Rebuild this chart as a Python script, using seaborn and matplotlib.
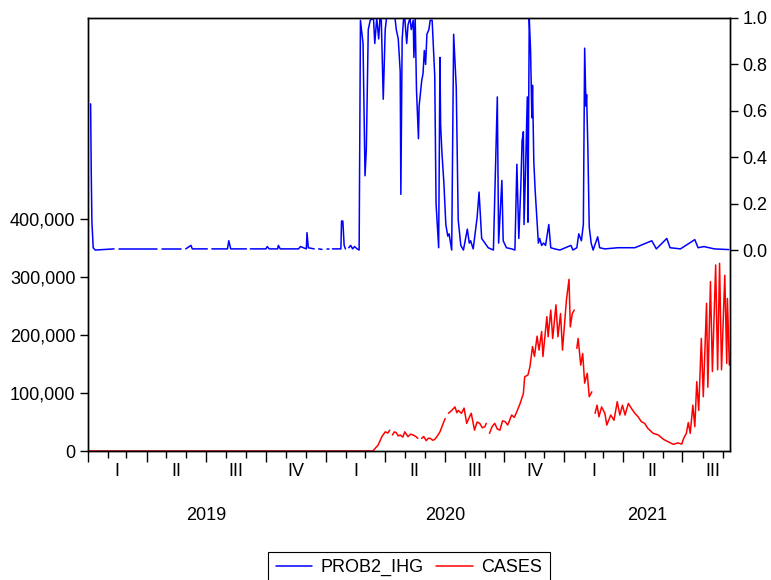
import matplotlib
matplotlib.use("Agg")
import matplotlib.dates as mdates
import matplotlib.pyplot as plt
import matplotlib.transforms as mtransforms
import numpy as np
import pandas as pd
import seaborn as sns
from matplotlib.lines import Line2D
from matplotlib.ticker import FuncFormatter, NullFormatter

nan = np.nan

# PROB2_IHG (right axis); nan marks a gap in the series
prob_dates = [
    "2019-01-05", "2019-01-06", "2019-01-07", "2019-01-09", "2019-01-12", "2019-02-10",
    "2019-02-14", "2019-02-18", "2019-04-17", "2019-04-20", "2019-04-24", "2019-05-24",
    "2019-05-27", "2019-05-31", "2019-06-08", "2019-06-10", "2019-07-03", "2019-07-06",
    "2019-07-10", "2019-08-03", "2019-08-05", "2019-08-08", "2019-09-01", "2019-09-04",
    "2019-09-07", "2019-10-01", "2019-10-03", "2019-10-06", "2019-10-19", "2019-10-20",
    "2019-10-23", "2019-11-20", "2019-11-23", "2019-12-02", "2019-12-03", "2019-12-05",
    "2019-12-14", "2019-12-18", "2019-12-21", "2019-12-26", "2019-12-28", "2020-01-02",
    "2020-01-06", "2020-01-08", "2020-01-11", "2020-01-24", "2020-01-25", "2020-01-27",
    "2020-01-29", "2020-01-31", "2020-02-03", "2020-02-05", "2020-02-08", "2020-02-11",
    "2020-02-14", "2020-02-18", "2020-02-21",
    "2020-02-23", "2020-02-27", "2020-03-01", "2020-03-03", "2020-03-06", "2020-03-09",
    "2020-03-14", "2020-03-16", "2020-03-19", "2020-03-22", "2020-03-24", "2020-03-26",
    "2020-03-29", "2020-04-01", "2020-04-03", "2020-04-08", "2020-04-16", "2020-04-18",
    "2020-04-21", "2020-04-24", "2020-04-25", "2020-04-27", "2020-04-29", "2020-05-01",
    "2020-05-04", "2020-05-06", "2020-05-09", "2020-05-11", "2020-05-14", "2020-05-15",
    "2020-05-17", "2020-05-19", "2020-05-22", "2020-05-23", "2020-05-27", "2020-05-29",
    "2020-05-31", "2020-06-02", "2020-06-04", "2020-06-07", "2020-06-09", "2020-06-12",
    "2020-06-16", "2020-06-18", "2020-06-22", "2020-06-24", "2020-06-25", "2020-06-27",
    "2020-06-30", "2020-07-03", "2020-07-06", "2020-07-08", "2020-07-12", "2020-07-15",
    "2020-07-19", "2020-07-22", "2020-07-26", "2020-07-30", "2020-08-05", "2020-08-08",
    "2020-08-10", "2020-08-14", "2020-08-20", "2020-08-23", "2020-08-27", "2020-09-01",
    "2020-09-06", "2020-09-14", "2020-09-20", "2020-09-22", "2020-09-27", "2020-09-29",
    "2020-10-04", "2020-10-12", "2020-10-17", "2020-10-20", "2020-10-23", "2020-10-26",
    "2020-10-28", "2020-10-30", "2020-10-31", "2020-11-02", "2020-11-05", "2020-11-06",
    "2020-11-08", "2020-11-10", "2020-11-12", "2020-11-13", "2020-11-15", "2020-11-17",
    "2020-11-22", "2020-11-24", "2020-11-27", "2020-11-30", "2020-12-03", "2020-12-08",
    "2020-12-11", "2020-12-17", "2020-12-25", "2021-01-11", "2021-01-14", "2021-01-20",
    "2021-01-23", "2021-01-27", "2021-01-30", "2021-02-01", "2021-02-03", "2021-02-04",
    "2021-02-06", "2021-02-08", "2021-02-11", "2021-02-14", "2021-02-21", "2021-02-24",
    "2021-03-04", "2021-03-24", "2021-04-19", "2021-05-15", "2021-05-22", "2021-06-07",
    "2021-06-12", "2021-06-28", "2021-07-20", "2021-07-25", "2021-08-03", "2021-08-19",
    "2021-09-10",
]
prob_values = [
    0.63, 0.33, 0.12, 0.01, 0.0, 0.005,
    nan, 0.005, 0.005, nan, 0.005, 0.005,
    nan, 0.005, 0.02, 0.005, 0.005, nan,
    0.005, 0.005, 0.04, 0.005, 0.005, nan,
    0.005, 0.005, 0.015, 0.005, 0.005, 0.02,
    0.005, 0.005, 0.015, 0.005, 0.075, 0.01,
    0.005, nan, 0.005, 0.003, nan, 0.005,
    0.005, nan, 0.005, 0.005, 0.125, 0.125,
    0.02, 0.005, nan, 0.01, 0.02, 0.005,
    0.015, 0.005, 0.0,
    0.99, 0.89, 0.32, 0.43, 0.95, 0.99,
    1.0, 0.89, 1.0, 0.91, 1.0, 0.99,
    0.65, 0.95, 1.0, 1.0, 1.0, 0.95,
    0.91, 0.77, 0.24, 0.91, 0.99, 1.0,
    0.89, 0.97, 1.0, 0.95, 0.99, 0.83,
    1.0, 0.69, 0.48, 0.62, 0.73, 0.76,
    0.86, 0.80, 0.93, 0.95, 0.99, 0.99,
    0.75, 0.20, 0.01, 0.83, 0.54, 0.42,
    0.29, 0.11, 0.06, 0.07, 0.0, 0.93,
    0.70, 0.13, 0.02, 0.0, 0.09, 0.03,
    0.04, 0.005, 0.14, 0.25, 0.05, 0.03,
    0.01, 0.0, 0.66, 0.03, 0.30, 0.04,
    0.01, 0.005, 0.0, 0.37, 0.05, 0.27,
    0.47, 0.51, 0.11, 0.31, 0.66, 0.12,
    1.0, 0.86, 0.57, 0.71, 0.38, 0.26,
    0.03, 0.05, 0.02, 0.03, 0.02, 0.11,
    0.01, 0.005, 0.0, 0.02, 0.0, 0.01,
    0.07, 0.04, 0.11, 0.87, 0.62, 0.67,
    0.43, 0.10, 0.03, 0.0, 0.057, 0.01,
    0.005, 0.01, 0.01, 0.04, 0.005, 0.05,
    0.01, 0.005, 0.045, 0.01, 0.015, 0.005,
    0.002,
]

# CASES (left axis)
case_dates = [
    "2019-01-01", "2020-03-13", "2020-03-21", "2020-03-27", "2020-04-01", "2020-04-05",
    "2020-04-08", "2020-04-10", "2020-04-12", "2020-04-15", "2020-04-18", "2020-04-21",
    "2020-04-24", "2020-04-28", "2020-05-01", "2020-05-06", "2020-05-10", "2020-05-14",
    "2020-05-18", "2020-05-21", "2020-05-24", "2020-05-27", "2020-05-30", "2020-06-03",
    "2020-06-06", "2020-06-09", "2020-06-13", "2020-06-16", "2020-06-20", "2020-06-24",
    "2020-06-28", "2020-07-02", "2020-07-04", "2020-07-07", "2020-07-12", "2020-07-17",
    "2020-07-20", "2020-07-22", "2020-07-27", "2020-07-31", "2020-08-04", "2020-08-08",
    "2020-08-11", "2020-08-16", "2020-08-20", "2020-08-24", "2020-08-28", "2020-09-01",
    "2020-09-03", "2020-09-05", "2020-09-08", "2020-09-12", "2020-09-16", "2020-09-20",
    "2020-09-24", "2020-09-28", "2020-10-02", "2020-10-06", "2020-10-12", "2020-10-16",
    "2020-10-20", "2020-10-25", "2020-10-30", "2020-11-01", "2020-11-06", "2020-11-09",
    "2020-11-13", "2020-11-16", "2020-11-20", "2020-11-23", "2020-11-27", "2020-11-29",
    "2020-12-05", "2020-12-07", "2020-12-11", "2020-12-14", "2020-12-19", "2020-12-22",
    "2020-12-26", "2020-12-29", "2021-01-04", "2021-01-08", "2021-01-10", "2021-01-13",
    "2021-01-16", "2021-01-18", "2021-01-20", "2021-01-22", "2021-01-26", "2021-01-29",
    "2021-02-01", "2021-02-05", "2021-02-08", "2021-02-12", "2021-02-14", "2021-02-17",
    "2021-02-20", "2021-02-23", "2021-02-27", "2021-03-04", "2021-03-07", "2021-03-13",
    "2021-03-18", "2021-03-23", "2021-03-27", "2021-03-31", "2021-04-04", "2021-04-09",
    "2021-04-14", "2021-04-19", "2021-04-24", "2021-04-29", "2021-05-04", "2021-05-09",
    "2021-05-17", "2021-05-25", "2021-06-02", "2021-06-09", "2021-06-17", "2021-06-24",
    "2021-06-30", "2021-07-03", "2021-07-07", "2021-07-10", "2021-07-13", "2021-07-17",
    "2021-07-20", "2021-07-23", "2021-07-26", "2021-07-30", "2021-08-02", "2021-08-07",
    "2021-08-09", "2021-08-13", "2021-08-16", "2021-08-21", "2021-08-24", "2021-08-27",
    "2021-08-30", "2021-09-04", "2021-09-07", "2021-09-08", "2021-09-11",
]
case_values = [
    0, 0, 10000, 25000, 33000, 31000,
    36000, nan, 27600, 33000, 31600, 26000,
    27600, 24000, 33000, 24700, 29000, 27600,
    25000, 21800, nan, 21800, 25000, 17800,
    22000, 21800, 18500, 20000, 26000, 33000,
    45000, 56000, nan, 65000, 70000, 76000,
    66000, 70000, 65000, 74000, 47700, 58000,
    65000, 36000, 50000, 47700, 40000, 42000,
    47700, nan, 30500, 42000, 47700, 38000,
    36000, 52000, 50600, 44800, 62000, 58000,
    68000, 82000, 99400, 128000, 131000, 145000,
    180000, 163000, 198000, 174000, 206000, 163000,
    231600, 197000, 243000, 194000, 252000, 197000,
    237000, 174000, 260000, 296000, 214000, 237000,
    243000, nan, 177000, 194000, 148000, 168000,
    117000, 134000, 93600, 102000, nan, 65000,
    79000, 59000, 76000, 65000, 44800, 62000,
    53000, 85000, 62000, 79000, 62000, 82000,
    73000, 65000, 59000, 50600, 47700, 39000,
    30500, 27600, 20000, 16000, 11500, 14000,
    12000, 22000, 30500, 49000, 30500, 79000,
    42000, 119500, 70000, 194000, 93600, 254600,
    110000, 292000, 137000, 320700, 140000, 323600,
    140000, 303000, 151000, 263000, 148000,
]

series_names = ["PROB2_IHG", "CASES"]
quarter_names = ["I", "II", "III", "IV"]
date_start, date_end = "2019-01-01", "2021-09-12"


def to_frame(dates, values):
    # split the series at nan so the gaps stay visible
    df = pd.DataFrame({"date": pd.to_datetime(dates), "value": values})
    df["seg"] = df["value"].isna().cumsum()
    return df.dropna()


prob_df = to_frame(prob_dates, prob_values)
case_df = to_frame(case_dates, case_values)

sns.set_style("ticks")
plt.rcParams["font.family"] = ["Liberation Sans", "DejaVu Sans"]
plt.rcParams["font.size"] = 13
plt.rcParams["text.color"] = "black"
plt.rcParams["xtick.color"] = "black"
plt.rcParams["ytick.color"] = "black"

fig = plt.figure(figsize=(7.71, 5.80), dpi=100)
ax = fig.add_axes([88 / 771, 1 - 451 / 580, (730 - 88) / 771, (451 - 18) / 580])
ax2 = ax.twinx()

sns.lineplot(data=case_df, x="date", y="value", units="seg", estimator=None,
             color="red", linewidth=1.1, ax=ax, legend=False)
sns.lineplot(data=prob_df, x="date", y="value", units="seg", estimator=None,
             color="blue", linewidth=1.1, ax=ax2, legend=False)

x0, x1 = pd.Timestamp(date_start), pd.Timestamp(date_end)
ax.set_xlim(x0, x1)
ax.set_ylim(0, 746600)
ax2.set_ylim(-0.866, 1.0)

ax.set_yticks([0, 100000, 200000, 300000, 400000])
ax.yaxis.set_major_formatter(FuncFormatter(lambda v, p: f"{v:,.0f}"))
ax2.set_yticks([0.0, 0.2, 0.4, 0.6, 0.8, 1.0])
ax2.yaxis.set_major_formatter(FuncFormatter(lambda v, p: f"{v:.1f}"))

ax.xaxis.set_major_locator(mdates.MonthLocator(bymonth=[1, 4, 7, 10]))
ax.xaxis.set_minor_locator(mdates.MonthLocator())
ax.xaxis.set_major_formatter(NullFormatter())
ax.xaxis.set_minor_formatter(NullFormatter())

for a in (ax, ax2):
    a.set_xlabel("")
    a.set_ylabel("")
    for s in a.spines.values():
        s.set_visible(True)
        s.set_linewidth(1.0)
        s.set_color("black")
    a.tick_params(axis="y", direction="out", length=6, width=1.0, colors="black",
                  labelsize=13, pad=3)
ax.tick_params(axis="x", which="major", direction="out", length=8, width=1.0,
               colors="black")
ax.tick_params(axis="x", which="minor", direction="out", length=5, width=1.0,
               colors="black")
ax.tick_params(axis="y", which="minor", length=0)

# quarter and year labels under the date axis
trans = mtransforms.blended_transform_factory(ax.transData, ax.transAxes)
for q in pd.period_range("2019Q1", "2021Q3", freq="Q"):
    mid = q.start_time + (q.end_time - q.start_time) / 2
    ax.annotate(quarter_names[q.quarter - 1], xy=(mdates.date2num(mid), 0), xycoords=trans,
                xytext=(0, -21), textcoords="offset pixels", ha="center", va="center",
                fontsize=13, color="black")
for yr in [2019, 2020, 2021]:
    a0 = max(x0, pd.Timestamp(f"{yr}-01-01"))
    a1 = min(x1, pd.Timestamp(f"{yr}-12-31"))
    mid = a0 + (a1 - a0) / 2
    ax.annotate(str(yr), xy=(mdates.date2num(mid), 0), xycoords=trans,
                xytext=(0, -65), textcoords="offset pixels", ha="center", va="center",
                fontsize=13, color="black")

handles = [Line2D([], [], color="blue", lw=1.1), Line2D([], [], color="red", lw=1.1)]
leg = fig.legend(handles, series_names, loc="upper center",
                 bbox_to_anchor=(409 / 771, 1 - 552 / 580), ncol=2, frameon=True,
                 fancybox=False, framealpha=1, edgecolor="black", fontsize=13,
                 handlelength=2.0, handletextpad=0.5, columnspacing=0.7,
                 borderpad=0.4, borderaxespad=0.0, labelcolor="black")
leg.get_frame().set_linewidth(0.8)

fig.savefig("out.png", dpi=100)
